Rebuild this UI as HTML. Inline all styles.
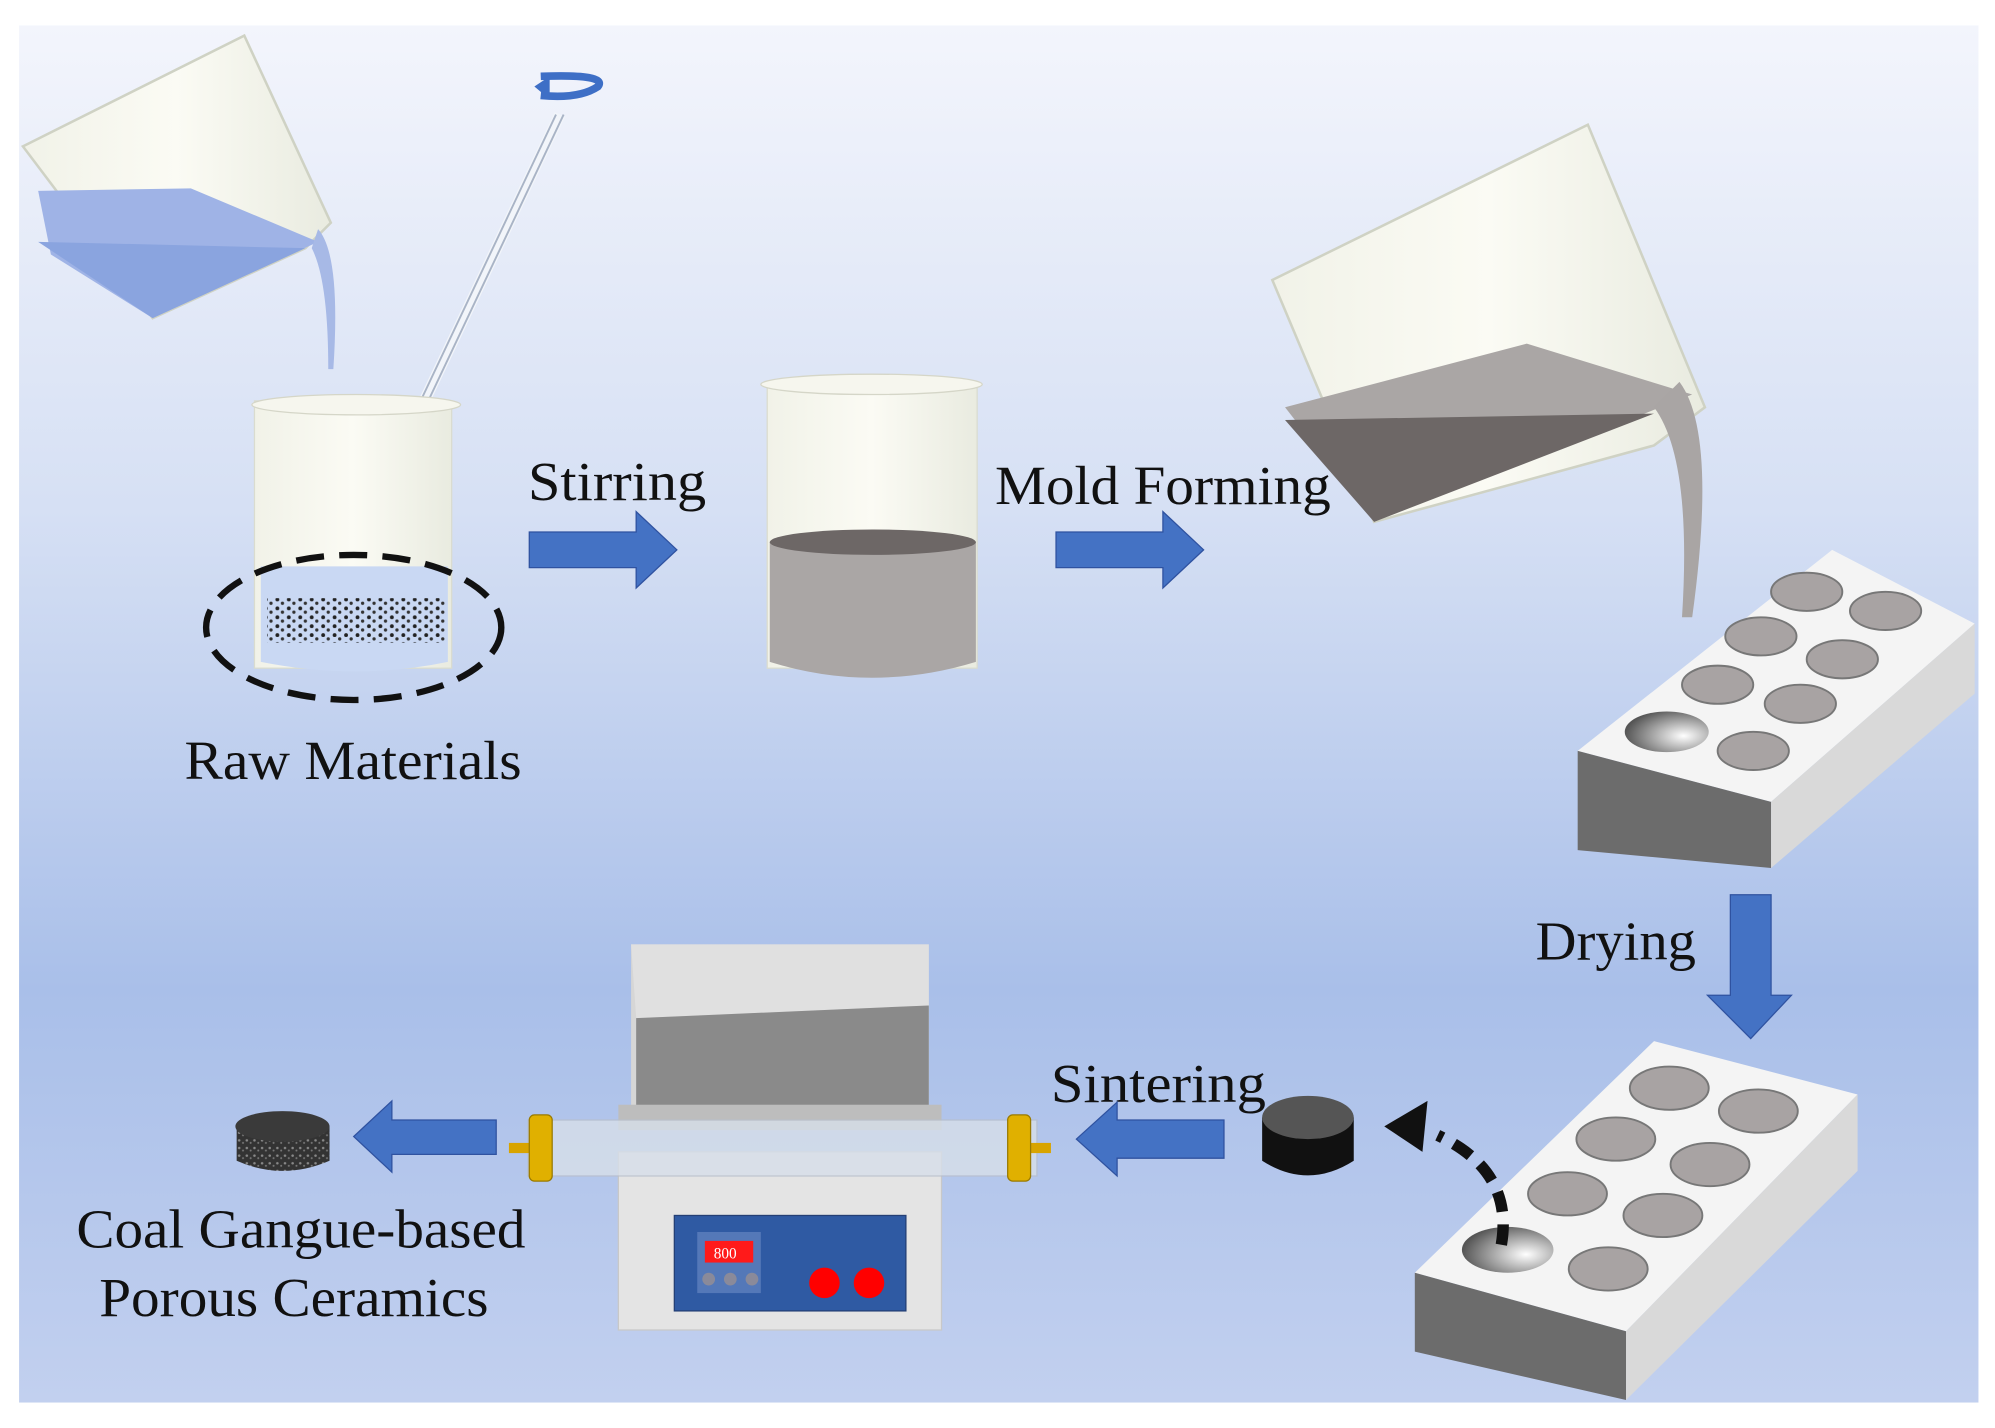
<!DOCTYPE html>
<html><head><meta charset="utf-8"><style>
html,body{margin:0;padding:0;background:#fff;}
svg{display:block;}
text{font-family:"Liberation Serif",serif;fill:#111;}
</style></head><body>
<svg width="1995" height="1428" viewBox="0 0 1568 1122" preserveAspectRatio="none" xmlns="http://www.w3.org/2000/svg">
<defs>
<linearGradient id="bg" x1="0" y1="0" x2="0" y2="1">
<stop offset="0" stop-color="#f3f5fc"/>
<stop offset="0.35" stop-color="#d6e0f4"/>
<stop offset="0.7" stop-color="#a9bfe9"/>
<stop offset="1" stop-color="#c2d0ef"/>
</linearGradient>
<linearGradient id="glass" x1="0" y1="0" x2="1" y2="0">
<stop offset="0" stop-color="#f1f2e8"/><stop offset="0.5" stop-color="#fbfbf4"/><stop offset="1" stop-color="#e9ebe0"/>
</linearGradient>
<radialGradient id="hole" cx="0.7" cy="0.6" r="0.7">
<stop offset="0" stop-color="#fff"/><stop offset="1" stop-color="#555"/>
</radialGradient>
<pattern id="dots" width="9" height="7" patternUnits="userSpaceOnUse">
<circle cx="2" cy="2" r="1.5" fill="#222"/><circle cx="6" cy="5" r="1.3" fill="#333"/>
</pattern>
<pattern id="speck" width="6" height="6" patternUnits="userSpaceOnUse">
<rect width="6" height="6" fill="#333"/><circle cx="2" cy="2" r="1" fill="#888"/><circle cx="5" cy="4" r="0.8" fill="#777"/>
</pattern>
</defs>
<rect x="15" y="20" width="1540" height="1082" fill="url(#bg)"/>

<!-- pouring beaker top-left -->
<path d="M18 115 L192 28 L260 175 L240 195 L120 250 Z" fill="url(#glass)" stroke="#cfd2c4" stroke-width="2"/>
<path d="M30 150 L150 148 L250 190 L120 250 L40 200 Z" fill="#9fb3e6"/>
<path d="M30 190 L240 195 L120 250 Z" fill="#8aa4df"/>
<path d="M250 180 Q268 200 262 290 L258 290 Q258 220 245 195 Z" fill="#a7b9e6"/>
<!-- stirring rod -->
<line x1="265" y1="460" x2="440" y2="90" stroke="#f2f5fa" stroke-width="9"/>
<line x1="262" y1="460" x2="437" y2="90" stroke="#a9b4c6" stroke-width="1.5"/>
<line x1="268" y1="460" x2="443" y2="90" stroke="#a9b4c6" stroke-width="1.5"/>
<path d="M425 60 Q478 58 470 68 Q455 78 425 75" fill="none" stroke="#3e6fc6" stroke-width="6"/>
<polygon points="420,68 432,60 432,78" fill="#3e6fc6"/>

<!-- raw beaker -->
<rect x="200" y="315" width="155" height="210" fill="url(#glass)" stroke="#dadccf"/>
<ellipse cx="280" cy="318" rx="82" ry="8" fill="#f6f6ee" stroke="#d5d6c8"/>
<path d="M205 445 L352 445 L352 520 Q280 535 205 520 Z" fill="#c9d8f3"/>
<rect x="210" y="470" width="140" height="35" fill="url(#dots)"/>
<ellipse cx="278" cy="493" rx="116" ry="57" fill="none" stroke="#111" stroke-width="5" stroke-dasharray="22,12"/>
<text x="145" y="612" font-size="43" textLength="265" lengthAdjust="spacingAndGlyphs">Raw Materials</text>

<!-- Stirring -->
<text x="415" y="393" font-size="43" textLength="140" lengthAdjust="spacingAndGlyphs">Stirring</text>
<polygon points="416,418 500,418 500,402 532,432 500,462 500,446 416,446" fill="#4472c4" stroke="#2f52a0"/>

<!-- middle beaker -->
<rect x="603" y="300" width="165" height="225" fill="url(#glass)" stroke="#dadccf"/>
<ellipse cx="685" cy="302" rx="87" ry="8" fill="#f6f6ee" stroke="#d5d6c8"/>
<path d="M605 426 L767 426 L767 520 Q685 545 605 520 Z" fill="#aaa6a5"/>
<ellipse cx="686" cy="426" rx="81" ry="10" fill="#6d6766"/>

<!-- Mold forming -->
<text x="782" y="396" font-size="43" textLength="264" lengthAdjust="spacingAndGlyphs">Mold Forming</text>
<polygon points="830,418 914,418 914,402 946,432 914,462 914,446 830,446" fill="#4472c4" stroke="#2f52a0"/>

<!-- big pouring beaker -->
<path d="M1000 220 L1248 98 L1340 320 L1300 350 L1080 410 Z" fill="url(#glass)" stroke="#cfd2c4" stroke-width="2"/>
<path d="M1010 320 L1200 270 L1330 310 L1080 410 Z" fill="#aaa6a5"/>
<path d="M1010 330 L1300 325 L1080 410 Z" fill="#6d6766"/>
<path d="M1320 300 Q1350 340 1330 485 L1322 485 Q1330 360 1300 320 Z" fill="#a9a5a4"/>

<!-- mold tray 1 -->
<polygon points="1240,590 1440,432 1552,490 1392,630" fill="#f4f4f4"/>
<polygon points="1240,590 1392,630 1392,682 1240,668" fill="#6c6c6c"/>
<polygon points="1392,630 1552,490 1552,545 1392,682" fill="#d9d9d9"/>
<g fill="#a8a3a3" stroke="#777" stroke-width="1.5">
<ellipse cx="1420" cy="465" rx="28" ry="15"/><ellipse cx="1482" cy="480" rx="28" ry="15"/>
<ellipse cx="1384" cy="500" rx="28" ry="15"/><ellipse cx="1448" cy="518" rx="28" ry="15"/>
<ellipse cx="1350" cy="538" rx="28" ry="15"/><ellipse cx="1415" cy="553" rx="28" ry="15"/>
<ellipse cx="1378" cy="590" rx="28" ry="15"/>
</g>
<ellipse cx="1310" cy="575" rx="33" ry="16" fill="url(#hole)"/>

<!-- Drying -->
<text x="1207" y="754" font-size="43" textLength="126" lengthAdjust="spacingAndGlyphs">Drying</text>
<polygon points="1360,703 1392,703 1392,782 1408,782 1376,816 1342,782 1360,782" fill="#4472c4" stroke="#2f52a0"/>

<!-- mold tray 2 -->
<polygon points="1112,1000 1300,818 1460,860 1278,1046" fill="#f4f4f4"/>
<polygon points="1112,1000 1278,1046 1278,1100 1112,1062" fill="#6c6c6c"/>
<polygon points="1278,1046 1460,860 1460,920 1278,1100" fill="#d9d9d9"/>
<g fill="#a8a3a3" stroke="#777" stroke-width="1.5">
<ellipse cx="1312" cy="855" rx="31" ry="17"/><ellipse cx="1382" cy="873" rx="31" ry="17"/>
<ellipse cx="1270" cy="895" rx="31" ry="17"/><ellipse cx="1344" cy="915" rx="31" ry="17"/>
<ellipse cx="1232" cy="938" rx="31" ry="17"/><ellipse cx="1307" cy="955" rx="31" ry="17"/>
<ellipse cx="1264" cy="997" rx="31" ry="17"/>
</g>
<ellipse cx="1185" cy="982" rx="36" ry="18" fill="url(#hole)"/>

<!-- dashed curved arrow -->
<path d="M1180 978 Q1190 920 1130 892" fill="none" stroke="#111" stroke-width="9" stroke-dasharray="16,10"/>
<polygon points="1088,885 1122,865 1118,905" fill="#111"/>

<!-- black pellet -->
<path d="M992 878 L992 912 Q1028 935 1064 912 L1064 878 Z" fill="#111"/>
<ellipse cx="1028" cy="878" rx="36" ry="17" fill="#555"/>

<!-- Sintering -->
<text x="826" y="866" font-size="43" textLength="169" lengthAdjust="spacingAndGlyphs">Sintering</text>
<polygon points="962,880 878,880 878,866 846,895 878,924 878,910 962,910" fill="#4472c4" stroke="#2f52a0"/>

<!-- furnace -->
<rect x="496" y="742" width="234" height="130" fill="#d6d6d6"/>
<polygon points="496,742 730,742 730,790 500,800" fill="#e0e0e0"/>
<polygon points="500,800 730,790 730,870 500,870" fill="#8a8a8a"/>
<rect x="486" y="868" width="254" height="20" fill="#bdbdbd"/>
<rect x="486" y="905" width="254" height="140" fill="#e4e4e4" stroke="#c8c8c8"/>
<rect x="415" y="880" width="400" height="44" fill="#d7dfe9" opacity="0.8" stroke="#b7bfcc"/>
<rect x="400" y="898" width="18" height="8" fill="#d8a400"/>
<rect x="416" y="876" width="18" height="52" rx="4" fill="#e0b000" stroke="#9a7a00"/>
<rect x="808" y="898" width="18" height="8" fill="#d8a400"/>
<rect x="792" y="876" width="18" height="52" rx="4" fill="#e0b000" stroke="#9a7a00"/>
<rect x="530" y="955" width="182" height="75" fill="#2f5aa3" stroke="#243f75"/>
<rect x="548" y="968" width="50" height="48" fill="#5478b8"/>
<rect x="554" y="975" width="38" height="17" fill="#ff1a1a"/>
<text x="561" y="989" font-size="12" style="fill:#fff">800</text>
<circle cx="557" cy="1005" r="5" fill="#8a8a9a"/><circle cx="574" cy="1005" r="5" fill="#8a8a9a"/><circle cx="591" cy="1005" r="5" fill="#8a8a9a"/>
<circle cx="648" cy="1008" r="12" fill="#ff0000"/><circle cx="683" cy="1008" r="12" fill="#ff0000"/>

<!-- arrow to product -->
<polygon points="390,880 308,880 308,865 278,893 308,921 308,907 390,907" fill="#4472c4" stroke="#2f52a0"/>

<!-- product -->
<path d="M186 885 L186 912 Q222 928 259 912 L259 885 Z" fill="url(#speck)"/>
<ellipse cx="222" cy="885" rx="37" ry="12" fill="#3a3a3a"/>
<text x="60" y="980" font-size="43" textLength="353" lengthAdjust="spacingAndGlyphs">Coal Gangue-based</text>
<text x="78" y="1034" font-size="43" textLength="306" lengthAdjust="spacingAndGlyphs">Porous Ceramics</text>
</svg>
</body></html>
